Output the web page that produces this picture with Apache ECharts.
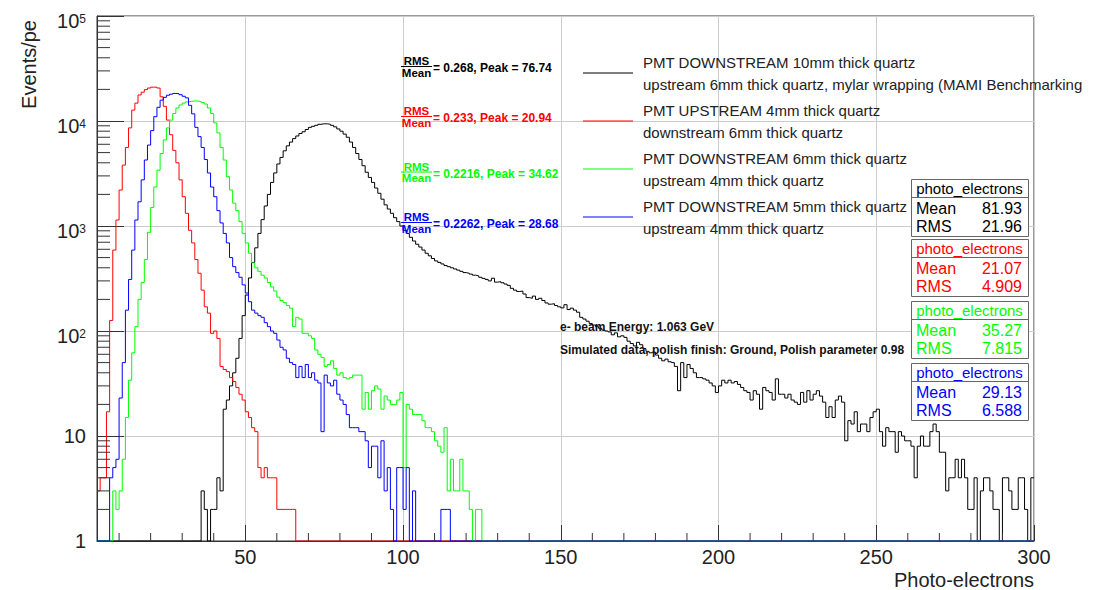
<!DOCTYPE html>
<html>
<head>
<meta charset="utf-8">
<title>Photo-electrons</title>
<script src="https://cdn.jsdelivr.net/npm/echarts@6/dist/echarts.min.js"></script>
<style>
html,body{margin:0;padding:0;background:#ffffff;}
#chart{width:1097px;height:590px;}
</style>
</head>
<body>
<div id="chart"></div>
<script>
const FONT = "'Liberation Sans', Arial, Helvetica, sans-serif";

// ---------- axis ranges & ticks ----------
const binLow = 3;            // lower edge of first bin (bin width 1)
const xMin = 3, xMax = 300;
const yMin = 1, yMax = 100000;
const xMajorTicks = [50, 100, 150, 200, 250, 300];
const xMinorTicks = [10, 20, 30, 40, 60, 70, 80, 90, 110, 120, 130, 140, 160, 170, 180, 190,
                     210, 220, 230, 240, 260, 270, 280, 290];
const yDecades = [1, 10, 100, 1000, 10000];
const yMinorMultipliers = [2, 3, 4, 5, 6, 7, 8, 9];

// ---------- texts ----------
const xTitle = 'Photo-electrons';
const yTitle = 'Events/pe';
const seriesNames = [
  'PMT DOWNSTREAM 10mm thick quartz\nupstream 6mm thick quartz, mylar wrapping (MAMI Benchmarking',
  'PMT UPSTREAM 4mm thick quartz\ndownstream 6mm thick quartz',
  'PMT DOWNSTREAM 6mm thick quartz\nupstream 4mm thick quartz',
  'PMT DOWNSTREAM 5mm thick quartz\nupstream 4mm thick quartz'
];
const seriesColors = ['#000000', '#ff0000', '#00ff00', '#0000ff'];
const ratioLabels = ['0.268', '0.233', '0.2216', '0.2262'];
const peakLabels = ['76.74', '20.94', '34.62', '28.68'];
const statTitle = 'photo_electrons';
const statMeans = ['81.93', '21.07', '35.27', '29.13'];
const statRms = ['21.96', '4.909', '7.815', '6.588'];
const beamText = 'e- beam Energy: 1.063 GeV';
const simText = 'Simulated data, polish finish: Ground, Polish parameter 0.98';

// ---------- histogram contents, bins 3..299 (width 1) ----------
const blackCounts = [
  /*  3 */ 0,0,0,0,0,0,0,
  /* 10 */ 0,0,0,0,0,0,0,0,0,0,
  /* 20 */ 0,0,0,0,0,0,0,0,0,0,
  /* 30 */ 0,0,0,0,0,0,3,2,0,2,
  /* 40 */ 2,4,3,18,22,30,40,55,85,140,
  /* 50 */ 220,320,450,620,850,1150,1550,2000,2600,3200,
  /* 60 */ 3900,4500,5200,5800,6300,6800,7200,7600,7900,8300,
  /* 70 */ 8700,8900,9100,9300,9400,9400,9300,9100,8800,8400,
  /* 80 */ 8000,7500,7000,6300,5600,4900,4300,3750,3250,2900,
  /* 90 */ 2600,2300,2050,1800,1590,1450,1320,1200,1100,1000,
  /*100 */ 910,850,780,720,670,630,590,550,520,490,
  /*110 */ 465,450,435,420,410,400,390,380,370,360,
  /*120 */ 355,348,340,335,325,317,310,300,318,292,
  /*130 */ 295,288,280,272,255,245,238,240,225,208,
  /*140 */ 205,215,200,205,195,185,180,182,175,170,
  /*150 */ 166,178,160,165,158,151,135,130,124,118,
  /*160 */ 114,110,106,102,100,98,92,96,88,90,
  /*170 */ 87,80,76,72,78,74,68,64,62,63,
  /*180 */ 59,55,52,54,51,50,46,27,50,36,
  /*190 */ 48,44,40,36,36,35,34,32,30,26,
  /*200 */ 30,34,32,34,32,33,31,29,27,26,
  /*210 */ 22,27,25,18,29,27,26,22,35,25,
  /*220 */ 25,23,25,22,21,20,26,21,27,22,
  /*230 */ 25,27,24,21,15,19,15,22,24,21,
  /*240 */ 9,14,13,17,11,13,13,11,15,17,
  /*250 */ 18,11,8,12,11,11,7,11,10,9,
  /*260 */ 9,8,4,8,10,8,8,11,13,11,
  /*270 */ 7,7,3,4,4,6,4,6,4,2,
  /*280 */ 2,4,0,3,4,4,3,2,2,0,
  /*290 */ 4,4,3,2,2,4,4,2,0,4
];
const redCounts = [
  /*  3 */ 3,4,4,17,126,590,1140,
  /* 10 */ 2200,3800,5600,8600,12700,14800,17700,18800,19900,20600,
  /* 20 */ 21000,21000,20600,17000,13800,10200,7400,5250,4000,2750,
  /* 30 */ 1900,1320,910,690,480,355,245,170,148,95,
  /* 40 */ 100,85,46,43,41,36,33,29,25,22,
  /* 50 */ 17,15,12,11,5,4,5,4,4,4,
  /* 60 */ 2,2,2,2,2,2,0,0,0,0,
  /* 70 */ 0,0,0,0,0,0,0,0,0,0,
  /* 80 */ 0,0,0,0,0,0,0,0,0,0,
  /* 90 */ 0,0,0,0,0,0,0,0,0,0,
  /*100 */ 0,0,0,0,0,0,0,0,0,0,
  /*110 */ 0,0,0,0,0,0,0,0,0,0,
  /*120 */ 0,0,0,0,0,0,0,0,0,0,
  /*130 */ 0,0,0,0,0,0,0,0,0,0,
  /*140 */ 0,0,0,0,0,0,0,0,0,0,
  /*150 */ 0,0,0,0,0,0,0,0,0,0,
  /*160 */ 0,0,0,0,0,0,0,0,0,0,
  /*170 */ 0,0,0,0,0,0,0,0,0,0,
  /*180 */ 0,0,0,0,0,0,0,0,0,0,
  /*190 */ 0,0,0,0,0,0,0,0,0,0,
  /*200 */ 0,0,0,0,0,0,0,0,0,0,
  /*210 */ 0,0,0,0,0,0,0,0,0,0,
  /*220 */ 0,0,0,0,0,0,0,0,0,0,
  /*230 */ 0,0,0,0,0,0,0,0,0,0,
  /*240 */ 0,0,0,0,0,0,0,0,0,0,
  /*250 */ 0,0,0,0,0,0,0,0,0,0,
  /*260 */ 0,0,0,0,0,0,0,0,0,0,
  /*270 */ 0,0,0,0,0,0,0,0,0,0,
  /*280 */ 0,0,0,0,0,0,0,0,0,0,
  /*290 */ 0,0,0,0,0,0,0,0,0,0
];
const greenCounts = [
  /*  3 */ 0,0,0,0,0,3,2,
  /* 10 */ 3,6,15,34,62,110,200,290,480,870,
  /* 20 */ 1500,2350,3400,4900,6600,8600,10200,11800,13300,14200,
  /* 30 */ 14800,15200,15400,15500,15500,15300,15000,14500,13300,11800,
  /* 40 */ 9600,7700,5600,4250,2950,2200,1650,1400,1100,850,
  /* 50 */ 690,550,445,400,370,340,320,290,263,240,
  /* 60 */ 210,195,186,175,165,110,135,130,95,95,
  /* 70 */ 90,85,66,60,56,46,48,52,44,38,
  /* 80 */ 40,36,35,36,38,38,38,18,26,18,
  /* 90 */ 27,30,28,18,24,22,20,20,22,26,
  /*100 */ 5,20,18,16,16,16,14,12,12,11,
  /*110 */ 9,8,7,12,3,6,3,3,6,3,
  /*120 */ 3,2,0,2,2,0,0,0,0,0,
  /*130 */ 0,0,0,0,0,0,0,0,0,0,
  /*140 */ 0,0,0,0,0,0,0,0,0,0,
  /*150 */ 0,0,0,0,0,0,0,0,0,0,
  /*160 */ 0,0,0,0,0,0,0,0,0,0,
  /*170 */ 0,0,0,0,0,0,0,0,0,0,
  /*180 */ 0,0,0,0,0,0,0,0,0,0,
  /*190 */ 0,0,0,0,0,0,0,0,0,0,
  /*200 */ 0,0,0,0,0,0,0,0,0,0,
  /*210 */ 0,0,0,0,0,0,0,0,0,0,
  /*220 */ 0,0,0,0,0,0,0,0,0,0,
  /*230 */ 0,0,0,0,0,0,0,0,0,0,
  /*240 */ 0,0,0,0,0,0,0,0,0,0,
  /*250 */ 0,0,0,0,0,0,0,0,0,0,
  /*260 */ 0,0,0,0,0,0,0,0,0,0,
  /*270 */ 0,0,0,0,0,0,0,0,0,0,
  /*280 */ 0,0,0,0,0,0,0,0,0,0,
  /*290 */ 0,0,0,0,0,0,0,0,0,0
];
const blueCounts = [
  /*  3 */ 0,0,0,0,4,5,6,
  /* 10 */ 23,50,158,310,590,1140,1700,2750,4250,5900,
  /* 20 */ 8100,11000,13500,15800,16800,17600,18000,18300,18200,17800,
  /* 30 */ 17200,16600,14100,11700,8700,7100,5600,4300,3200,2350,
  /* 40 */ 1900,1400,1070,850,690,500,410,360,325,275,
  /* 50 */ 230,190,158,148,140,135,120,110,100,95,
  /* 60 */ 82,70,66,55,50,48,36,46,36,48,
  /* 70 */ 36,40,34,32,11,38,32,30,34,25,
  /* 80 */ 22,20,16,12,12,12,11,11,9,5,
  /* 90 */ 8,8,4,9,3,5,2,0,5,5,
  /*100 */ 2,5,0,3,0,0,0,0,0,0,
  /*110 */ 0,0,2,2,2,0,0,0,0,0,
  /*120 */ 0,0,0,0,0,0,0,0,0,0,
  /*130 */ 0,0,0,0,0,0,0,0,0,0,
  /*140 */ 0,0,0,0,0,0,0,0,0,0,
  /*150 */ 0,0,0,0,0,0,0,0,0,0,
  /*160 */ 0,0,0,0,0,0,0,0,0,0,
  /*170 */ 0,0,0,0,0,0,0,0,0,0,
  /*180 */ 0,0,0,0,0,0,0,0,0,0,
  /*190 */ 0,0,0,0,0,0,0,0,0,0,
  /*200 */ 0,0,0,0,0,0,0,0,0,0,
  /*210 */ 0,0,0,0,0,0,0,0,0,0,
  /*220 */ 0,0,0,0,0,0,0,0,0,0,
  /*230 */ 0,0,0,0,0,0,0,0,0,0,
  /*240 */ 0,0,0,0,0,0,0,0,0,0,
  /*250 */ 0,0,0,0,0,0,0,0,0,0,
  /*260 */ 0,0,0,0,0,0,0,0,0,0,
  /*270 */ 0,0,0,0,0,0,0,0,0,0,
  /*280 */ 0,0,0,0,0,0,0,0,0,0,
  /*290 */ 0,0,0,0,0,0,0,0,0,0
];

// ---------- build ----------
const countsList = [blackCounts, redCounts, greenCounts, blueCounts];

// histogram outline: point at each bin's lower edge, plus closing point at upper edge of last bin.
// empty bins are drawn on the axis floor, as ROOT does on a log axis.
function toSteps(counts) {
  const pts = counts.map((c, i) => [binLow + i, c > 0 ? c : yMin]);
  pts.push([binLow + counts.length, pts[pts.length - 1][1]]);
  return pts;
}

const chart = echarts.init(document.getElementById('chart'), null, {renderer: 'svg', width: 1097, height: 590});

const option = {
  animation: false,
  backgroundColor: '#ffffff',
  textStyle: {fontFamily: FONT},
  grid: {left: 97, right: 63, top: 16, bottom: 49, show: true, borderColor: '#333333', borderWidth: 1,
         backgroundColor: 'transparent', containLabel: false, outerBoundsMode: 'none'},
  legend: {
    show: true, orient: 'vertical', left: 583, top: 51, padding: 0,
    itemWidth: 50, itemHeight: 1, itemGap: 4, icon: 'rect',
    selectedMode: false, data: seriesNames,
    textStyle: {fontSize: 15, lineHeight: 22, color: '#222222', fontFamily: FONT, padding: [0, 0, 0, 5]}
  },
  xAxis: [{
    type: 'value', min: xMin, max: xMax, position: 'bottom',
    axisLine: {show: true, onZero: false, lineStyle: {color: '#333333', width: 1}},
    axisTick: {show: true, inside: true, length: 16, customValues: xMajorTicks, lineStyle: {color: '#333333', width: 1}},
    axisLabel: {show: true, customValues: xMajorTicks, fontSize: 20, color: '#222222', fontFamily: FONT, margin: 6},
    splitLine: {show: true, lineStyle: {color: '#cccccc', width: 1}}
  }],
  yAxis: [{
    type: 'log', logBase: 10, min: yMin, max: yMax,
    axisLine: {show: true, onZero: false, lineStyle: {color: '#333333', width: 1}},
    axisTick: {show: true, inside: true, length: 27, lineStyle: {color: '#333333', width: 1}},
    axisLabel: {
      show: true, margin: 11, fontSize: 20, color: '#222222', fontFamily: FONT,
      formatter: function (v) {
        const e = Math.round(Math.log10(v));
        if (e === 0) return '1';
        if (e === 1) return '10';
        return '{b|10}{s|' + e + '}';
      },
      rich: {
        b: {fontSize: 20, fontFamily: FONT, color: '#222222', lineHeight: 20, padding: [10, 0, 0, 0]},
        s: {fontSize: 12, fontFamily: FONT, color: '#222222', lineHeight: 12, verticalAlign: 'top', padding: [7, 0, 0, 0]}
      }
    },
    splitLine: {show: true, lineStyle: {color: '#cccccc', width: 1}}
  }],
  series: countsList.map((c, i) => ({
    type: 'line', name: seriesNames[i], data: toSteps(c), step: 'end',
    symbol: 'none', showSymbol: false, silent: true,
    lineStyle: {color: seriesColors[i], width: 1},
    itemStyle: {color: seriesColors[i]},
    emphasis: {disabled: true}, z: 2 + i
  }))
};
chart.setOption(option);

function buildGraphics() {
  const g = [];
  const px = v => chart.convertToPixel({xAxisIndex: 0}, v);
  const py = v => chart.convertToPixel({yAxisIndex: 0}, v);
  const xL = px(xMin), xR = px(xMax), yB = py(yMin);
  const tickStyle = {stroke: '#333333', lineWidth: 1};

  // y minor ticks (2..9 per decade)
  yDecades.forEach(d => yMinorMultipliers.forEach(m => {
    const y = py(d * m);
    g.push({type: 'line', z: 50, silent: true, shape: {x1: xL, y1: y, x2: xL + 13, y2: y}, style: tickStyle});
  }));
  // x minor ticks
  xMinorTicks.forEach(v => {
    const x = px(v);
    g.push({type: 'line', z: 50, silent: true, shape: {x1: x, y1: yB, x2: x, y2: yB - 8}, style: tickStyle});
  });

  // axis titles
  g.push({type: 'text', z: 50, silent: true, x: xR, y: 580,
    style: {text: xTitle, fontSize: 20, fontFamily: FONT, fill: '#222222', align: 'right', verticalAlign: 'middle'}});
  g.push({type: 'text', z: 50, silent: true, x: 29, y: 20, rotation: Math.PI / 2,
    style: {text: yTitle, fontSize: 20, fontFamily: FONT, fill: '#222222', align: 'right', verticalAlign: 'middle'}});

  // RMS/Mean fraction annotations
  const fracLineY = [66, 116, 171.5, 222];
  const fracX0 = 401, fracX1 = 432;
  seriesNames.forEach((n, i) => {
    const col = seriesColors[i];
    const y = fracLineY[i];
    g.push({type: 'text', z: 50, silent: true, x: (fracX0 + fracX1) / 2, y: y - 5,
      style: {text: 'RMS', fontSize: 11.5, fontWeight: 'bold', fontFamily: FONT, fill: col, align: 'center', verticalAlign: 'middle'}});
    g.push({type: 'line', z: 50, silent: true, shape: {x1: fracX0, y1: y + 0.5, x2: fracX1, y2: y + 0.5}, style: {stroke: col, lineWidth: 1}});
    g.push({type: 'text', z: 50, silent: true, x: (fracX0 + fracX1) / 2, y: y + 6.5,
      style: {text: 'Mean', fontSize: 11.5, fontWeight: 'bold', fontFamily: FONT, fill: col, align: 'center', verticalAlign: 'middle'}});
    g.push({type: 'text', z: 50, silent: true, x: fracX1 + 1, y: y + 2,
      style: {text: '= ' + ratioLabels[i] + ', Peak = ' + peakLabels[i], fontSize: 12, fontWeight: 'bold', fontFamily: FONT, fill: col, align: 'left', verticalAlign: 'middle'}});
  });

  // beam / simulation notes
  g.push({type: 'text', z: 50, silent: true, x: 560, y: 327,
    style: {text: beamText, fontSize: 12, fontWeight: 'bold', fontFamily: FONT, fill: '#111111', align: 'left', verticalAlign: 'middle'}});
  g.push({type: 'text', z: 50, silent: true, x: 560, y: 350,
    style: {text: simText, fontSize: 12, fontWeight: 'bold', fontFamily: FONT, fill: '#111111', align: 'left', verticalAlign: 'middle'}});

  // statistics boxes
  const boxTops = [179, 239, 301, 363];
  const boxH = 57, boxL = 911, boxW = 117, titleH = 18;
  seriesNames.forEach((n, i) => {
    const col = seriesColors[i];
    const t = boxTops[i];
    g.push({type: 'rect', z: 60, silent: true, shape: {x: boxL + 0.5, y: t + 0.5, width: boxW, height: boxH},
      style: {fill: '#ffffff', stroke: '#666666', lineWidth: 1}});
    g.push({type: 'line', z: 61, silent: true, shape: {x1: boxL + 0.5, y1: t + titleH + 0.5, x2: boxL + boxW + 0.5, y2: t + titleH + 0.5},
      style: {stroke: '#666666', lineWidth: 1}});
    g.push({type: 'text', z: 62, silent: true, x: boxL + boxW / 2, y: t + 9,
      style: {text: statTitle, fontSize: 15, fontFamily: FONT, fill: col, align: 'center', verticalAlign: 'middle'}});
    g.push({type: 'text', z: 62, silent: true, x: boxL + 5, y: t + 29.5,
      style: {text: 'Mean', fontSize: 16, fontFamily: FONT, fill: col, align: 'left', verticalAlign: 'middle'}});
    g.push({type: 'text', z: 62, silent: true, x: boxL + boxW - 6, y: t + 29.5,
      style: {text: statMeans[i], fontSize: 16, fontFamily: FONT, fill: col, align: 'right', verticalAlign: 'middle'}});
    g.push({type: 'text', z: 62, silent: true, x: boxL + 5, y: t + 47.5,
      style: {text: 'RMS', fontSize: 16, fontFamily: FONT, fill: col, align: 'left', verticalAlign: 'middle'}});
    g.push({type: 'text', z: 62, silent: true, x: boxL + boxW - 6, y: t + 47.5,
      style: {text: statRms[i], fontSize: 16, fontFamily: FONT, fill: col, align: 'right', verticalAlign: 'middle'}});
  });
  return g;
}

chart.setOption({graphic: buildGraphics()});
</script>
</body>
</html>
